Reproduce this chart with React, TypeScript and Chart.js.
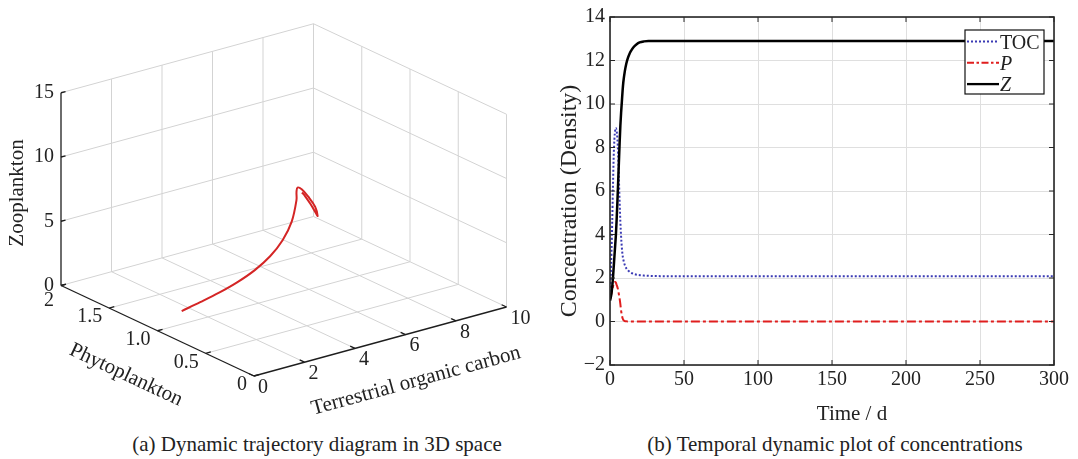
import React, { useEffect, useRef } from 'react';
import { Chart, registerables } from 'chart.js';

Chart.register(...registerables);

const SERIF = '"Liberation Serif", "Times New Roman", Times, serif';
const TEXT = '#222222';

// ---------- Panel (a): 3D trajectory (TOC, Phytoplankton, Zooplankton) ----------
const tocTicks3D = [0, 2, 4, 6, 8, 10];
const tocTickLabels3D = ['0', '2', '4', '6', '8', '10'];
const phyTicks3D = [0, 0.5, 1, 1.5, 2];
const phyTickLabels3D = ['0', '0.5', '1.0', '1.5', '2'];
const zooTicks3D = [0, 5, 10, 15];
const zooTickLabels3D = ['0', '5', '10', '15'];

const trajTOC = [0.958, 1.309, 1.675, 1.945, 2.134, 2.243, 2.279, 2.181, 1.989, 1.836, 1.799, 1.927, 2.17, 2.42, 2.52, 2.436, 2.238, 2.02, 1.9];
const trajPhy = [1.0, 0.9, 0.8, 0.68, 0.55, 0.42, 0.3, 0.18, 0.08, 0.04, 0.02, 0.01, 0.005, 0, 0, 0, 0, 0, 0];
const trajZoo = [1.02, 1.871, 2.766, 3.868, 5.159, 6.632, 8.28, 10.21, 12.35, 13.19, 13.63, 13.46, 12.77, 11.88, 11.1, 11.42, 12.18, 12.92, 13.26];

// ---------- Panel (b): temporal dynamics ----------
const timeDays = [0, 0.5, 1, 1.5, 2, 2.5, 3, 3.5, 4, 4.5, 5, 5.5, 6, 6.5, 7, 7.5, 8, 8.5, 9, 10, 11, 12, 13, 14, 16, 18, 20, 23, 26, 30, 35, 40, 50, 60, 80, 100, 150, 200, 250, 300];
const tocConc = [1.0, 2.0, 3.2, 4.6, 6.2, 7.6, 8.4, 8.8, 8.9, 8.75, 8.4, 7.7, 6.6, 5.5, 4.6, 3.9, 3.4, 3.05, 2.85, 2.6, 2.45, 2.36, 2.3, 2.25, 2.19, 2.15, 2.13, 2.11, 2.1, 2.09, 2.085, 2.08, 2.08, 2.08, 2.08, 2.08, 2.08, 2.08, 2.08, 2.08];
const pConc = [1.0, 1.15, 1.3, 1.45, 1.6, 1.72, 1.8, 1.82, 1.78, 1.68, 1.58, 1.45, 1.25, 1.05, 0.8, 0.5, 0.3, 0.15, 0.07, 0.02, 0.01, 0, 0, 0, 0, 0, 0, 0, 0, 0, 0, 0, 0, 0, 0, 0, 0, 0, 0, 0];
const zConc = [0.96, 1.1, 1.3, 1.6, 2.0, 2.5, 3.0, 3.5, 4.0, 4.7, 5.5, 6.4, 7.3, 8.2, 9.0, 9.6, 10.1, 10.6, 11.0, 11.5, 11.85, 12.1, 12.28, 12.42, 12.62, 12.75, 12.83, 12.88, 12.9, 12.9, 12.9, 12.9, 12.9, 12.9, 12.9, 12.9, 12.9, 12.9, 12.9, 12.9];
const timeTicks = [0, 50, 100, 150, 200, 250, 300];
const concTicks = [-2, 0, 2, 4, 6, 8, 10, 12, 14];
const legendLabels = ['TOC', 'P', 'Z'];

// projection of the 3D box onto the panel (layout of the view)
const VIEW = { ox: 254, oy: 376, tx: 25.25, ty: -6.9, px: -96.5, py: -45.25, zy: -12.85 };
function proj3(t: number, p: number, z: number) {
  return { x: VIEW.ox + VIEW.tx * t + VIEW.px * p, y: VIEW.oy + VIEW.ty * t + VIEW.py * p + VIEW.zy * z };
}

function lineDs(points: { x: number; y: number }[], color: string, width: number, tension = 0) {
  return {
    data: points,
    showLine: true,
    borderColor: color,
    backgroundColor: color,
    borderWidth: width,
    pointRadius: 0,
    pointHoverRadius: 0,
    fill: false,
    tension,
    borderCapStyle: 'butt',
    borderJoinStyle: 'round',
  };
}

function Panel3D() {
  const ref = useRef<HTMLCanvasElement | null>(null);
  useEffect(() => {
    if (!ref.current) return;
    const tMax = tocTicks3D[tocTicks3D.length - 1];
    const pMax = phyTicks3D[phyTicks3D.length - 1];
    const zMax = zooTicks3D[zooTicks3D.length - 1];
    const GRID = '#d3d3d3';
    const AX = '#1e1e1e';
    const seg = (a: number[], b: number[]) => [proj3(a[0], a[1], a[2]), proj3(b[0], b[1], b[2])];

    const gridSegs: { x: number; y: number }[][] = [];
    tocTicks3D.forEach((t) => { if (t > 0) gridSegs.push(seg([t, 0, 0], [t, pMax, 0])); });
    phyTicks3D.forEach((p) => { if (p > 0) gridSegs.push(seg([0, p, 0], [tMax, p, 0])); });
    tocTicks3D.forEach((t) => { if (t > 0) gridSegs.push(seg([t, pMax, 0], [t, pMax, zMax])); });
    zooTicks3D.forEach((z) => { if (z > 0) gridSegs.push(seg([0, pMax, z], [tMax, pMax, z])); });
    phyTicks3D.forEach((p) => { if (p < pMax) gridSegs.push(seg([tMax, p, 0], [tMax, p, zMax])); });
    zooTicks3D.forEach((z) => { if (z > 0) gridSegs.push(seg([tMax, 0, z], [tMax, pMax, z])); });

    const axisSegs: { x: number; y: number }[][] = [];
    axisSegs.push(seg([0, pMax, 0], [0, pMax, zMax]));
    axisSegs.push(seg([0, 0, 0], [0, pMax, 0]));
    axisSegs.push(seg([0, 0, 0], [tMax, 0, 0]));
    zooTicks3D.forEach((z) => axisSegs.push(seg([0, pMax, z], [0.18, pMax, z])));
    phyTicks3D.forEach((p) => axisSegs.push(seg([0, p, 0], [0.2, p, 0])));
    tocTicks3D.forEach((t) => axisSegs.push(seg([t, 0, 0], [t, 0.05, 0])));

    const traj = trajTOC.map((t, i) => proj3(t, trajPhy[i], trajZoo[i]));

    const datasets: any[] = [];
    datasets.push(lineDs(traj, '#d42525', 2, 0.35));
    axisSegs.forEach((s) => datasets.push(lineDs(s, AX, 1.3)));
    gridSegs.forEach((s) => datasets.push(lineDs(s, GRID, 1)));

    const textPlugin = {
      id: 'text3d',
      afterDraw(chart: any) {
        const { ctx } = chart;
        const sx = chart.scales.x;
        const sy = chart.scales.y;
        const P = (t: number, p: number, z: number) => {
          const q = proj3(t, p, z);
          return { x: sx.getPixelForValue(q.x), y: sy.getPixelForValue(q.y) };
        };
        ctx.save();
        ctx.fillStyle = TEXT;
        ctx.font = `20px ${SERIF}`;
        ctx.textBaseline = 'middle';
        ctx.textAlign = 'right';
        zooTicks3D.forEach((z, i) => {
          const q = P(0, pMax, z);
          ctx.fillText(zooTickLabels3D[i], q.x - 7, q.y);
        });
        phyTicks3D.forEach((p, i) => {
          const q = P(0, p, 0);
          const extra = p === pMax ? 6 : 0;
          ctx.fillText(phyTickLabels3D[i], q.x - 7, q.y + 9 + extra);
        });
        ctx.textAlign = 'left';
        tocTicks3D.forEach((t, i) => {
          const q = P(t, 0, 0);
          ctx.fillText(tocTickLabels3D[i], q.x + 4, q.y + 11.5);
        });
        ctx.font = `21px ${SERIF}`;
        ctx.textAlign = 'center';
        const drawRot = (txt: string, x: number, y: number, ang: number) => {
          ctx.save();
          ctx.translate(x, y);
          ctx.rotate(ang);
          ctx.fillText(txt, 0, 0);
          ctx.restore();
        };
        drawRot('Zooplankton', 17, 193, -Math.PI / 2);
        const pa = Math.atan2(-VIEW.py, -VIEW.px);
        drawRot('Phytoplankton', 126, 375, pa);
        const ta = Math.atan2(VIEW.ty, VIEW.tx);
        drawRot('Terrestrial organic carbon', 416, 381, ta);
        ctx.restore();
      },
    };

    const chart = new Chart(ref.current, {
      type: 'scatter',
      data: { datasets },
      options: {
        responsive: false,
        animation: false,
        devicePixelRatio: 1,
        layout: { padding: 0 },
        plugins: { legend: { display: false }, tooltip: { enabled: false } },
        events: [],
        scales: {
          x: { type: 'linear', min: 0, max: 540, display: false },
          y: { type: 'linear', min: 0, max: 430, reverse: true, display: false },
        },
      },
      plugins: [textPlugin],
    } as any);
    return () => chart.destroy();
  }, []);
  return <canvas ref={ref} width={540} height={430} style={{ position: 'absolute', left: 0, top: 0, width: 540, height: 430 }} />;
}

function PanelTime() {
  const ref = useRef<HTMLCanvasElement | null>(null);
  useEffect(() => {
    if (!ref.current) return;
    const colZ = '#000000';
    const colP = '#e01e1e';
    const colT = '#3a3ab4';
    const framePlugin = {
      id: 'frameLegend',
      afterDraw(chart: any) {
        const { ctx, chartArea: a, scales } = chart;
        ctx.save();
        ctx.strokeStyle = '#262626';
        ctx.lineWidth = 1;
        ctx.beginPath();
        timeTicks.forEach((v) => {
          const x = scales.x.getPixelForValue(v);
          ctx.moveTo(x, a.bottom); ctx.lineTo(x, a.bottom - 5);
          ctx.moveTo(x, a.top); ctx.lineTo(x, a.top + 5);
        });
        concTicks.forEach((v) => {
          const y = scales.y.getPixelForValue(v);
          ctx.moveTo(a.left, y); ctx.lineTo(a.left + 5, y);
          ctx.moveTo(a.right, y); ctx.lineTo(a.right - 5, y);
        });
        ctx.stroke();
        ctx.lineWidth = 1.6;
        ctx.strokeRect(a.left, a.top, a.right - a.left, a.bottom - a.top);

        // legend
        const lx = a.right - 89;
        const ly = a.top + 13;
        ctx.fillStyle = '#ffffff';
        ctx.fillRect(lx, ly, 79, 64);
        ctx.strokeStyle = '#111';
        ctx.lineWidth = 1.2;
        ctx.strokeRect(lx, ly, 79, 64);
        const styles = [
          { c: colT, w: 2, d: [2, 2], italic: false },
          { c: colP, w: 2, d: [7, 2.5, 2.5, 2.5], italic: true },
          { c: colZ, w: 2.3, d: [], italic: true },
        ];
        legendLabels.forEach((lab, i) => {
          const cy = ly + 11.5 + i * 21.3;
          const s = styles[i];
          ctx.save();
          ctx.strokeStyle = s.c;
          ctx.lineWidth = s.w;
          ctx.setLineDash(s.d);
          ctx.beginPath();
          ctx.moveTo(lx + 2, cy);
          ctx.lineTo(lx + 34, cy);
          ctx.stroke();
          ctx.restore();
          ctx.fillStyle = TEXT;
          ctx.font = `${s.italic ? 'italic ' : ''}20px ${SERIF}`;
          ctx.textAlign = 'left';
          ctx.textBaseline = 'alphabetic';
          ctx.fillText(lab, lx + 35, cy + 7);
        });

        // axis titles
        ctx.fillStyle = TEXT;
        ctx.font = `21px ${SERIF}`;
        ctx.textAlign = 'center';
        ctx.textBaseline = 'alphabetic';
        ctx.fillText('Time / d', 312, 420);
        ctx.font = `24px ${SERIF}`;
        ctx.save();
        ctx.translate(36, 201);
        ctx.rotate(-Math.PI / 2);
        ctx.fillText('Concentration (Density)', 0, 0);
        ctx.restore();
        ctx.restore();
      },
    };
    const tickFont = { family: SERIF, size: 20 };
    const chart = new Chart(ref.current, {
      type: 'line',
      data: {
        datasets: [
          { label: 'Z', data: timeDays.map((t, i) => ({ x: t, y: zConc[i] })), borderColor: colZ, borderWidth: 2.5, pointRadius: 0, fill: false, cubicInterpolationMode: 'monotone' },
          { label: 'P', data: timeDays.map((t, i) => ({ x: t, y: pConc[i] })), borderColor: colP, borderWidth: 2, borderDash: [9, 3, 3, 3], pointRadius: 0, fill: false, cubicInterpolationMode: 'monotone' },
          { label: 'TOC', data: timeDays.map((t, i) => ({ x: t, y: tocConc[i] })), borderColor: colT, borderWidth: 2, borderDash: [2, 2], pointRadius: 0, fill: false, cubicInterpolationMode: 'monotone' },
        ],
      },
      options: {
        responsive: false,
        animation: false,
        devicePixelRatio: 1,
        events: [],
        layout: { padding: { top: 16, right: 24, left: 0, bottom: 0 } },
        plugins: { legend: { display: false }, tooltip: { enabled: false } },
        scales: {
          x: {
            type: 'linear', min: 0, max: 300,
            afterBuildTicks: (s: any) => { s.ticks = timeTicks.map((v) => ({ value: v })); },
            afterFit: (s: any) => { s.height = 65; },
            ticks: { font: tickFont, color: TEXT, padding: 3, maxRotation: 0, autoSkip: false },
            grid: { color: '#dfdfdf', drawTicks: false, lineWidth: 1 },
            border: { display: false },
          },
          y: {
            type: 'linear', min: -2, max: 14,
            afterBuildTicks: (s: any) => { s.ticks = concTicks.map((v) => ({ value: v })); },
            afterFit: (s: any) => { s.width = 70; },
            ticks: { font: tickFont, color: TEXT, padding: 5, callback: (v: any) => (v < 0 ? '\u2212' + Math.abs(v) : String(v)) },
            grid: { color: '#dfdfdf', drawTicks: false, lineWidth: 1 },
            border: { display: false },
          },
        },
      },
      plugins: [framePlugin],
    } as any);
    return () => chart.destroy();
  }, []);
  return <canvas ref={ref} width={538} height={430} style={{ position: 'absolute', left: 540, top: 0, width: 538, height: 430 }} />;
}

export default function App() {
  const cap: React.CSSProperties = {
    position: 'absolute', top: 434, fontFamily: SERIF, fontSize: 21, lineHeight: '21px', color: TEXT,
    whiteSpace: 'nowrap', transform: 'translateX(-50%)',
  };
  return (
    <div style={{ position: 'absolute', left: 0, top: 0, width: 1078, height: 459, background: '#ffffff', overflow: 'hidden' }}>
      <Panel3D />
      <PanelTime />
      <div style={{ ...cap, left: 317 }}>(a) Dynamic trajectory diagram in 3D space</div>
      <div style={{ ...cap, left: 835 }}>(b) Temporal dynamic plot of concentrations</div>
    </div>
  );
}
